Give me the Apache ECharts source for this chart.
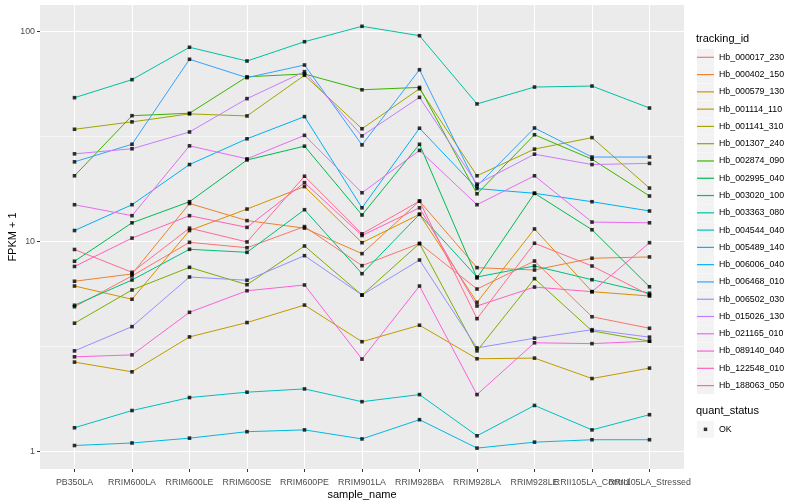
<!DOCTYPE html>
<html>
<head>
<meta charset="utf-8">
<script src="https://cdn.jsdelivr.net/npm/echarts@6/dist/echarts.min.js"></script>
<style>html,body{margin:0;padding:0;background:#fff;}#c{width:800px;height:500px;}</style>
</head>
<body>
<div id="c"></div>
<script>
const categories = ['PB350LA','RRIM600LA','RRIM600LE','RRIM600SE','RRIM600PE','RRIM901LA','RRIM928BA','RRIM928LA','RRIM928LE','RRII105LA_Control','RRII105LA_Stressed'];
const trackingIds = ['Hb_000017_230','Hb_000402_150','Hb_000579_130','Hb_001114_110','Hb_001141_310','Hb_001307_240','Hb_002874_090','Hb_002995_040','Hb_003020_100','Hb_003363_080','Hb_004544_040','Hb_005489_140','Hb_006006_040','Hb_006468_010','Hb_006502_030','Hb_015026_130','Hb_021165_010','Hb_089140_040','Hb_122548_010','Hb_188063_050'];
const palette = ['#F8766D','#EA8331','#D89000','#C09B00','#A3A500','#7CAE00','#39B600','#00BB4E','#00BF7D','#00C1A3','#00BFC4','#00BAE0','#00B0F6','#35A2FF','#9590FF','#C77CFF','#E76BF3','#FA62DB','#FF62BC','#FF6C91'];
const yTicks = [1, 10, 100];
const yMinorTicks = [3.1623, 31.623];
const quantStatus = ['OK'];

const Hb_000017_230 = [4.90, 6.87, 9.93, 9.36, 11.8, 7.69, 9.80, 5.95, 8.09, 4.39, 3.87];
const Hb_000402_150 = [6.48, 7.02, 15.2, 12.6, 11.6, 8.77, 15.6, 7.52, 7.33, 8.34, 8.46];
const Hb_000579_130 = [6.15, 5.32, 11.3, 14.3, 18.3, 9.89, 13.5, 5.14, 11.5, 5.78, 5.51];
const Hb_001114_110 = [2.67, 2.40, 3.52, 4.12, 4.99, 3.34, 4.00, 2.77, 2.79, 2.23, 2.50];
const Hb_001141_310 = [34.3, 37.2, 40.6, 39.7, 62.0, 34.5, 53.5, 20.6, 27.6, 31.3, 18.0];
const Hb_001307_240 = [4.09, 5.89, 7.55, 6.24, 9.54, 5.57, 9.80, 3.02, 6.67, 3.76, 3.36];
const Hb_002874_090 = [20.6, 39.8, 40.9, 61.0, 62.9, 52.9, 54.3, 16.9, 32.3, 24.7, 16.5];
const Hb_002995_040 = [8.07, 12.3, 15.5, 24.5, 28.5, 13.4, 29.1, 6.72, 17.0, 11.4, 6.10];
const Hb_003020_100 = [4.98, 6.57, 9.20, 8.90, 14.2, 7.04, 13.5, 6.79, 7.66, 6.59, 5.68];
const Hb_003363_080 = [48.5, 59.1, 84.3, 72.5, 89.6, 106.1, 95.7, 45.3, 54.5, 55.1, 43.3];
const Hb_004544_040 = [1.30, 1.57, 1.81, 1.92, 1.99, 1.73, 1.87, 1.19, 1.66, 1.27, 1.50];
const Hb_005489_140 = [1.07, 1.10, 1.16, 1.245, 1.27, 1.15, 1.42, 1.04, 1.11, 1.14, 1.14];
const Hb_006006_040 = [11.3, 15.0, 23.3, 30.9, 39.4, 14.5, 34.7, 17.9, 17.0, 15.5, 14.0];
const Hb_006468_010 = [24.0, 29.1, 73.9, 60.4, 69.4, 28.9, 65.9, 18.4, 34.8, 25.3, 25.3];
const Hb_006502_030 = [3.02, 3.94, 6.79, 6.55, 8.58, 5.57, 8.18, 3.12, 3.47, 3.81, 3.51];
const Hb_015026_130 = [26.2, 27.7, 33.3, 48.0, 64.5, 31.9, 48.7, 18.8, 26.1, 23.3, 23.6];
const Hb_021165_010 = [15.0, 13.3, 28.6, 24.8, 32.1, 17.1, 27.2, 15.0, 20.6, 12.4, 12.3];
const Hb_089140_040 = [2.83, 2.89, 4.61, 5.84, 6.22, 2.76, 6.15, 1.87, 3.30, 3.27, 3.36];
const Hb_122548_010 = [7.62, 10.4, 13.3, 11.7, 19.1, 10.7, 14.5, 4.94, 6.08, 5.78, 9.89];
const Hb_188063_050 = [9.18, 7.15, 11.6, 9.97, 20.5, 10.9, 15.6, 4.30, 9.83, 7.66, 5.57];

const seriesValues = [Hb_000017_230, Hb_000402_150, Hb_000579_130, Hb_001114_110, Hb_001141_310, Hb_001307_240, Hb_002874_090, Hb_002995_040, Hb_003020_100, Hb_003363_080, Hb_004544_040, Hb_005489_140, Hb_006006_040, Hb_006468_010, Hb_006502_030, Hb_015026_130, Hb_021165_010, Hb_089140_040, Hb_122548_010, Hb_188063_050];

const FONT = '"Liberation Sans", Arial, Helvetica, sans-serif';
const catIdx = categories.map((c, i) => i);

const lineSeries = trackingIds.map((name, k) => ({
  name: name,
  type: 'line',
  color: palette[k],
  showSymbol: false,
  symbol: 'none',
  lineStyle: { width: 1, color: palette[k] },
  emphasis: { disabled: true },
  data: seriesValues[k].map((v, i) => [i, v]),
  z: 2
}));

const pointData = [];
seriesValues.forEach(vals => vals.forEach((v, i) => pointData.push([i, v])));

const option = {
  animation: false,
  backgroundColor: '#FFFFFF',
  textStyle: { fontFamily: FONT },
  title: [
    { text: 'tracking_id', left: 696, top: 33, textStyle: { fontSize: 11, fontWeight: 'normal', color: '#000', fontFamily: FONT }, padding: 0 },
    { text: 'quant_status', left: 696, top: 405, textStyle: { fontSize: 11, fontWeight: 'normal', color: '#000', fontFamily: FONT }, padding: 0 }
  ],
  grid: [
    { left: 40, right: 116, top: 5, bottom: 31, show: true, backgroundColor: '#EBEBEB', borderWidth: 0, containLabel: false, outerBoundsMode: 'none' },
    /* label grid: one category band = 1/11.2 of the panel, so centres line up with the panel's discrete positions */
    { left: 45.75, right: 121.75, top: 5, bottom: 31, show: false, containLabel: false, outerBoundsMode: 'none' }
  ],
  xAxis: [
    {
      type: 'value', min: -0.6, max: 10.6, gridIndex: 0,
      axisLine: { show: false, onZero: false },
      axisTick: { show: false, customValues: catIdx },
      axisLabel: { show: false, customValues: catIdx },
      splitLine: { show: true, lineStyle: { color: '#FFFFFF', width: 1.1 } }
    },
    {
      type: 'category', data: categories, gridIndex: 1, boundaryGap: true,
      name: 'sample_name', nameLocation: 'middle', nameGap: 20, nameMoveOverlap: false,
      nameTextStyle: { fontSize: 11, color: '#000', fontFamily: FONT },
      axisLine: { show: false, onZero: false },
      axisTick: { show: true, alignWithLabel: true, interval: 0, length: 3, lineStyle: { color: '#333333', width: 1 } },
      axisLabel: { interval: 0, fontSize: 8.8, color: '#4D4D4D', margin: 9, fontFamily: FONT, hideOverlap: false },
      splitLine: { show: false }
    }
  ],
  yAxis: [
    {
      type: 'log', logBase: 10, min: 0.827, max: 134, gridIndex: 0,
      name: 'FPKM + 1', nameLocation: 'middle', nameGap: 22, nameMoveOverlap: false,
      nameTextStyle: { fontSize: 11, color: '#000', fontFamily: FONT },
      axisLine: { show: false, onZero: false },
      axisTick: { show: true, customValues: yTicks, length: 3, lineStyle: { color: '#333333', width: 1 } },
      axisLabel: { customValues: yTicks, fontSize: 8.8, color: '#4D4D4D', margin: 5, fontFamily: FONT, showMinLabel: true, showMaxLabel: true },
      splitLine: { show: true, lineStyle: { color: '#FFFFFF', width: 1.1 } }
    },
    {
      type: 'log', logBase: 10, min: 0.827, max: 134, position: 'left', gridIndex: 0,
      axisLine: { show: false, onZero: false },
      axisTick: { show: false, customValues: yMinorTicks },
      axisLabel: { show: false, customValues: yMinorTicks },
      splitLine: { show: true, lineStyle: { color: '#FFFFFF', width: 0.55 } }
    },
    { type: 'value', gridIndex: 1, show: false, min: 0, max: 1 }
  ],
  legend: [
    { orient: 'vertical', left: 697, top: 48.8, padding: 0, itemWidth: 17, itemHeight: 17, itemGap: 0.28, icon: 'rect', selectedMode: false,
      itemStyle: { color: '#F2F2F2', borderWidth: 0 }, data: trackingIds,
      textStyle: { fontSize: 8.8, color: '#000', fontFamily: FONT } },
    { orient: 'vertical', left: 697, top: 48.8, padding: 0, itemWidth: 17, itemHeight: 1.2, itemGap: 0.28, icon: 'rect', selectedMode: false,
      itemStyle: { borderWidth: 0 }, data: trackingIds,
      textStyle: { fontSize: 8.8, color: 'rgba(0,0,0,0)', lineHeight: 17, height: 17, fontFamily: FONT } },
    { orient: 'vertical', left: 697, top: 420.8, padding: 0, itemWidth: 17, itemHeight: 17, icon: 'rect', selectedMode: false,
      itemStyle: { color: '#F2F2F2', borderWidth: 0 }, data: quantStatus,
      textStyle: { fontSize: 8.8, color: '#000', fontFamily: FONT } },
    { orient: 'vertical', left: 703.75, top: 420.8, padding: 0, itemWidth: 3.5, itemHeight: 3.5, icon: 'rect', selectedMode: false,
      itemStyle: { color: '#000', borderWidth: 0 }, data: quantStatus,
      textStyle: { fontSize: 8.8, color: 'rgba(0,0,0,0)', lineHeight: 17, height: 17, fontFamily: FONT } }
  ],
  series: lineSeries.concat([{
    name: 'OK', type: 'scatter', symbol: 'rect', symbolSize: 3.6,
    itemStyle: { color: '#000000' }, emphasis: { disabled: true },
    data: pointData, z: 5
  }])
};

const chart = echarts.init(document.getElementById('c'), null, { renderer: 'canvas' });
chart.setOption(option);
</script>
</body>
</html>
